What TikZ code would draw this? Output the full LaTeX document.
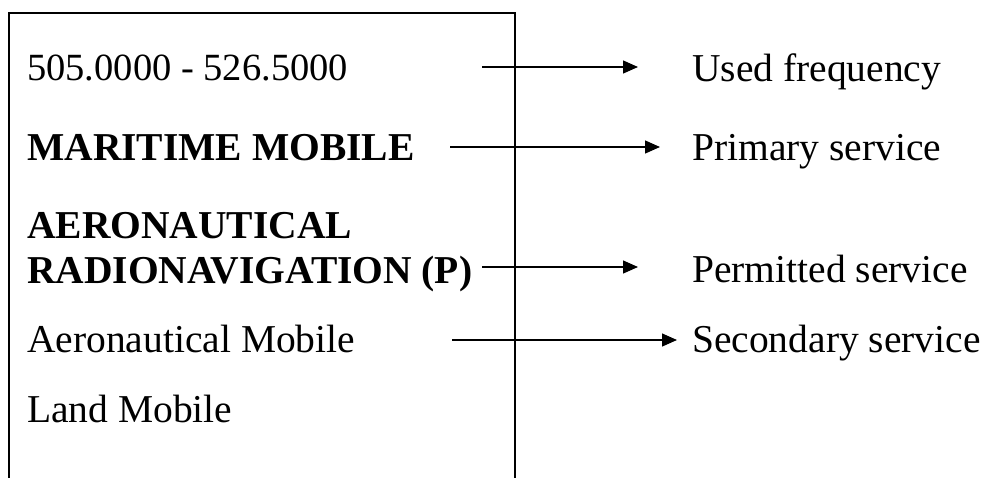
\documentclass[tikz,border=0pt]{standalone}
\usepackage{fontspec}
\setmainfont{Liberation Serif}
\usetikzlibrary{arrows.meta}
\begin{document}
\begin{tikzpicture}[x=1pt,y=-1pt,
  txt/.style={anchor=base west,inner sep=0pt,font=\fontsize{39.5}{46}\selectfont},
  bold/.style={txt,font=\fontsize{39.5}{46}\selectfont\bfseries},
  conn/.style={line width=1.3pt,-{Triangle[length=15pt,width=13pt]}},
  frame/.style={line width=2pt}]
\useasboundingbox (0,0) rectangle (986,477);
% frame
\coordinate (bl) at (8.5,480);
\coordinate (tl) at (8.5,12.5);
\coordinate (tr) at (514.5,12.5);
\coordinate (br) at (514.5,480);
\draw[frame] (bl) -- (tl) -- (tr) -- (br);
% left texts
\node[txt,font=\fontsize{38.5}{46}\selectfont] (f) at (27,80) {505.0000 - 526.5000};
\node[bold] (mm) at (27,160) {MARITIME MOBILE};
\node[bold] (ae) at (27,238) {AERONAUTICAL};
\node[bold] (rn) at (27,283) {RADIONAVIGATION (P)};
\node[txt]  (am) at (27,352) {Aeronautical Mobile};
\node[txt]  (lm) at (27,422) {Land Mobile};
% right texts
\node[txt] (uf) at (692,81)  {Used frequency};
\node[txt] (ps) at (692,160) {Primary service};
\node[txt] (pe) at (692,282) {Permitted service};
\node[txt] (ss) at (692,352) {Secondary service};
% arrow coordinates
\coordinate (a1s) at (482,67);  \coordinate (a1e) at (638,67);
\coordinate (a2s) at (450,147); \coordinate (a2e) at (660,147);
\coordinate (a3s) at (482,267); \coordinate (a3e) at (638,267);
\coordinate (a4s) at (452,340); \coordinate (a4e) at (677,340);
\draw[conn] (a1s) -- (a1e);
\draw[conn] (a2s) -- (a2e);
\draw[conn] (a3s) -- (a3e);
\draw[conn] (a4s) -- (a4e);
\end{tikzpicture}
\end{document}
